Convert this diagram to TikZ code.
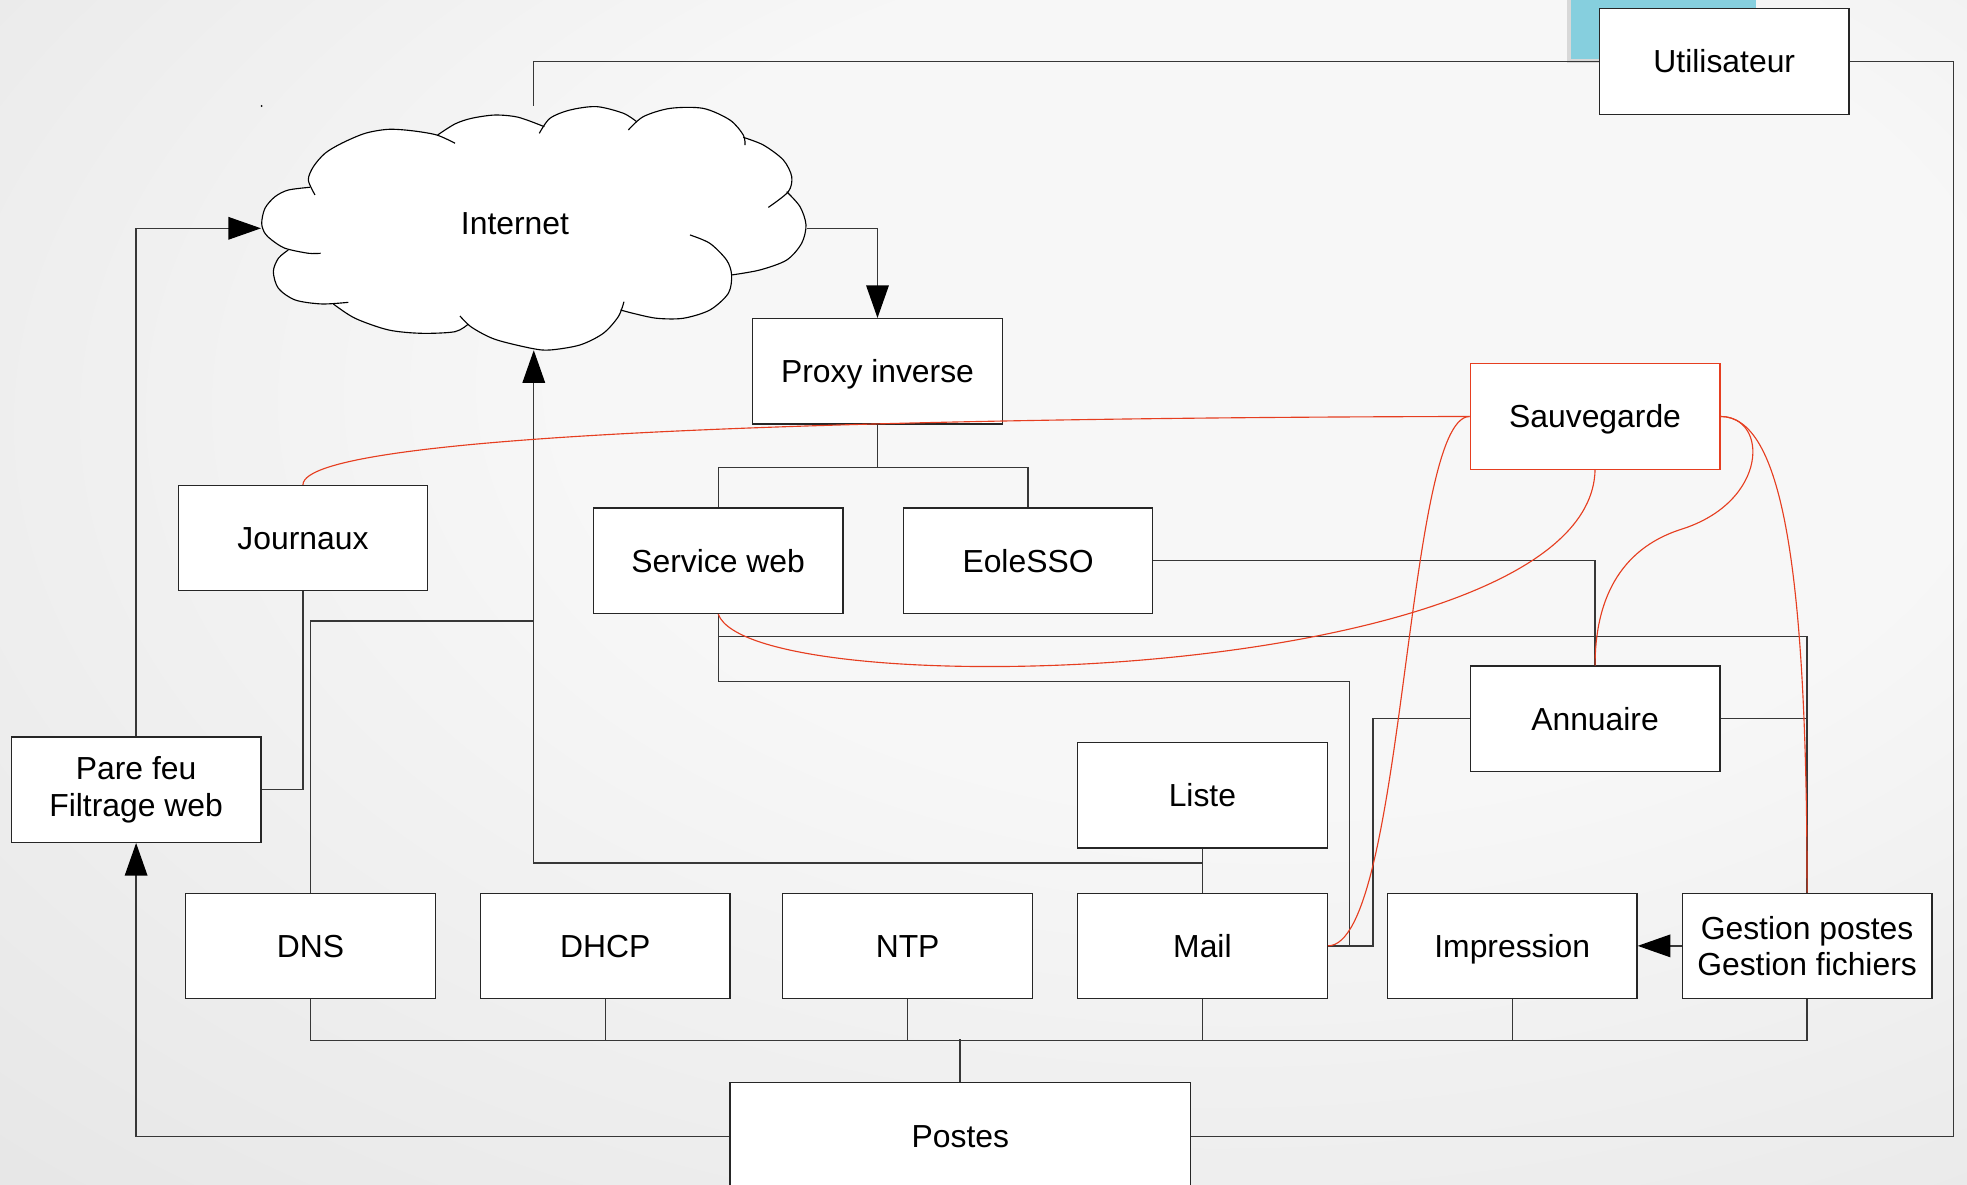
\documentclass[tikz,border=0pt]{standalone}
\usepackage{fontspec}
\setmainfont{Liberation Sans}
\usetikzlibrary{arrows.meta}
\definecolor{bgin}{RGB}{247,247,247}
\definecolor{bgout}{RGB}{222,222,222}
\definecolor{redl}{RGB}{230,62,32}
\definecolor{cyanb}{RGB}{134,207,222}
\definecolor{lin}{RGB}{55,55,55}
\pgfdeclareradialshading{bgshade}{\pgfpoint{10bp}{12bp}}{color(0bp)=(bgin); color(18bp)=(bgin); color(55bp)=(bgout); color(75bp)=(bgout)}
\begin{document}
\begin{tikzpicture}[x=1pt,y=-1pt,
  box/.style={draw=black!85, line width=1pt, fill=white, minimum width=199pt, minimum height=84pt, inner sep=0pt, font=\fontsize{25.4}{29}\selectfont, align=center},
  sbox/.style={box, text height=23.2pt, text depth=5pt},
  conn/.style={draw=lin, line width=1pt},
  arr/.style={conn, -{Triangle[length=26pt,width=18pt,color=black]}},
  redc/.style={draw=redl, line width=0.9pt},
  cloudline/.style={draw=black, line width=0.9pt},
  lbl/.style={font=\fontsize{25.4}{29}\selectfont, inner sep=0pt, text height=23.2pt, text depth=5pt}
]
\shade[shading=bgshade] (0,0) rectangle (1568,944);
\useasboundingbox (0,0) rectangle (1568,944);

% cyan tab behind Utilisateur
\fill[black, opacity=0.12] (1249,0) rectangle (1397,50);
\fill[cyanb] (1252,0) rectangle (1400,47);
\fill (208.6,84.5) circle (0.8);

% ---- cloud (Internet): one white fill made of wedges, then the lobe strokes ----
\coordinate (cc) at (425,182);
\fill[white, nonzero rule]
  plot[smooth] coordinates {(255.6,201.9) (245.8,201.9) (227.2,197.9) (216.6,191.3) (211.2,186.0) (208.6,178.0) (211.2,166.1) (219.2,156.8) (229.8,151.5) (247.1,149.3)} -- (cc) -- cycle
  plot[smooth] coordinates {(251.1,155.4) (245.8,143.5) (249.8,132.9) (259.1,122.2) (272.4,114.2) (291.0,106.3) (309.5,103.1) (328.2,104.2) (348.1,107.6) (362.7,114.2)} -- (cc) -- cycle
  plot[smooth] coordinates {(348.9,107.6) (362.7,98.8) (376.0,94.3) (394.6,91.7) (413.2,93.5) (433.9,101.0)} -- (cc) -- cycle
  plot[smooth] coordinates {(429.9,106.3) (438.4,94.3) (454.4,87.7) (475.6,85.0) (496.9,90.3) (507.5,97.0)} -- (cc) -- cycle
  plot[smooth] coordinates {(500.9,103.6) (512.8,93.0) (534.1,86.4) (560.6,86.4) (581.9,95.7) (592.5,107.6) (593.9,115.6)} -- (cc) -- cycle
  plot[smooth] coordinates {(592.5,109.5) (608.5,115.6) (624.4,127.5) (631.1,140.8) (628.4,152.8) (612.5,165.3)} -- (cc) -- cycle
  plot[smooth] coordinates {(627.1,152.8) (637.7,164.7) (642.5,179.3) (639.0,194.0) (627.1,207.3) (605.8,215.2) (583.2,219.2)} -- (cc) -- cycle
  plot[smooth] coordinates {(550.0,187.3) (565.9,194.0) (579.2,207.3) (583.2,219.2) (580.6,233.8) (565.9,247.1) (544.7,253.7) (523.4,253.7) (504.8,249.8) (494.7,247.1)} -- (cc) -- cycle
  plot[smooth] coordinates {(497.4,240.5) (492.9,252.4) (480.9,265.7) (462.3,275.0) (438.4,279.0) (423.8,277.7) (394.6,270.5) (376.0,260.9) (366.7,251.9)} -- (cc) -- cycle
  plot[smooth] coordinates {(373.3,258.3) (362.7,264.4) (336.1,265.7) (309.6,263.0) (283.0,253.7) (265.7,242.3)} -- (cc) -- cycle
  plot[smooth] coordinates {(277.7,241.0) (256.4,242.3) (235.2,239.1) (221.9,229.8) (217.9,216.5) (221.9,205.9) (229.8,199.3)} -- (cc) -- cycle;
\draw[cloudline] plot[smooth] coordinates {(247.1,149.3) (229.8,151.5) (219.2,156.8) (211.2,166.1) (208.6,178.0) (211.2,186.0) (216.6,191.3) (227.2,197.9) (245.8,201.9) (255.6,201.9)};
\draw[cloudline] plot[smooth] coordinates {(251.1,155.4) (245.8,143.5) (249.8,132.9) (259.1,122.2) (272.4,114.2) (291.0,106.3) (309.5,103.1) (328.2,104.2) (348.1,107.6) (362.7,114.2)};
\draw[cloudline] plot[smooth] coordinates {(348.9,107.6) (362.7,98.8) (376.0,94.3) (394.6,91.7) (413.2,93.5) (433.9,101.0)};
\draw[cloudline] plot[smooth] coordinates {(429.9,106.3) (438.4,94.3) (454.4,87.7) (475.6,85.0) (496.9,90.3) (507.5,97.0)};
\draw[cloudline] plot[smooth] coordinates {(500.9,103.6) (512.8,93.0) (534.1,86.4) (560.6,86.4) (581.9,95.7) (592.5,107.6) (593.9,115.6)};
\draw[cloudline] plot[smooth] coordinates {(592.5,109.5) (608.5,115.6) (624.4,127.5) (631.1,140.8) (628.4,152.8) (612.5,165.3)};
\draw[cloudline] plot[smooth] coordinates {(627.1,152.8) (637.7,164.7) (642.5,179.3) (639.0,194.0) (627.1,207.3) (605.8,215.2) (583.2,219.2)};
\draw[cloudline] plot[smooth] coordinates {(550.0,187.3) (565.9,194.0) (579.2,207.3) (583.2,219.2) (580.6,233.8) (565.9,247.1) (544.7,253.7) (523.4,253.7) (504.8,249.8) (494.7,247.1)};
\draw[cloudline] plot[smooth] coordinates {(497.4,240.5) (492.9,252.4) (480.9,265.7) (462.3,275.0) (438.4,279.0) (423.8,277.7) (394.6,270.5) (376.0,260.9) (366.7,251.9)};
\draw[cloudline] plot[smooth] coordinates {(373.3,258.3) (362.7,264.4) (336.1,265.7) (309.6,263.0) (283.0,253.7) (265.7,242.3)};
\draw[cloudline] plot[smooth] coordinates {(277.7,241.0) (256.4,242.3) (235.2,239.1) (221.9,229.8) (217.9,216.5) (221.9,205.9) (229.8,199.3)};
\node[minimum width=434.5pt, minimum height=194pt, inner sep=0pt] (internet) at (425.5,182) {};
\node[lbl] (inettext) at (410.5,178) {Internet};

% nodes
\node[sbox] (util) at (1374.5,49) {Utilisateur};
\node[sbox] (proxy) at (699.5,296) {Proxy inverse};
\node[sbox, draw=redl] (sauv) at (1271.5,332) {Sauvegarde};
\node[sbox] (journ) at (241.5,429) {Journaux};
\node[sbox] (sweb) at (572.5,447) {Service web};
\node[sbox] (eole) at (819.5,447) {EoleSSO};
\node[sbox] (ann) at (1271.5,573) {Annuaire};
\node[sbox] (liste) at (958.5,634) {Liste};
\node[box] (pare) at (108.5,629.5) {Pare feu\\Filtrage web};
\node[sbox] (dns) at (247.5,754) {DNS};
\node[sbox] (dhcp) at (482.5,754) {DHCP};
\node[sbox] (ntp) at (723.5,754) {NTP};
\node[sbox] (mail) at (958.5,754) {Mail};
\node[sbox] (imp) at (1205.5,754) {Impression};
\node[box] (gest) at (1440.5,754) {Gestion postes\\Gestion fichiers};
\node[sbox, minimum width=367pt, minimum height=86pt] (postes) at (765.5,906) {Postes};

% helper coordinates
\coordinate (mjoin) at (958.5,688);
\coordinate (djoin) at (425.5,495);
\coordinate (swbend) at (1076,543);

% black connectors
\draw[conn] (util.west) -| (internet.north);
\draw[conn] (util.east) -- ++(83,0) |- (postes.east);
\draw[arr] (postes.west) -| (pare.south);
\draw[arr] (pare.north) |- (internet.west);
\draw[arr] (internet.east) -| (proxy.north);
\draw[conn] (proxy.south) -- ++(0,34) -| (sweb.north);
\draw[conn] (proxy.south) -- ++(0,34) -| (eole.north);
\draw[conn] (journ.south) |- (pare.east);
\draw[conn] (liste) -- (mail);
\draw[arr] (mjoin) -| (internet.south);
\draw[conn] (dns.north) |- (djoin);
\draw[conn] (sweb.south) |- (swbend) |- (mail.east);
\draw[conn] (sweb.south) -- ++(0,18) -| (gest.north);
\draw[conn] (ann.west) -- ++(-77,0) |- (mail.east);
\draw[conn] (eole.east) -| (ann.north);
\draw[conn] (ann.east) -- (ann.east -| gest.north);
\draw[arr] (gest) -- (imp);
\draw[conn] (dns.south) -- ++(0,33) -| (gest.south);
\draw[conn] (dhcp.south) -- ++(0,33);
\draw[conn] (ntp.south) -- ++(0,33);
\draw[conn] (mail.south) -- ++(0,33);
\draw[conn] (imp.south) -- ++(0,33);
\draw[conn, line width=1.6pt] (postes.north) -- ++(0,-34);

% red connectors (Sauvegarde)
\draw[redc] (sauv.west) .. controls (700,333) and (241.5,345) .. (journ.north);
\draw[redc] (sauv.west) .. controls (1120,332) and (1120,754) .. (mail.east);
\draw[redc] (sauv.south) .. controls (1268,545) and (600,565) .. (sweb.south);
\draw[redc] (sauv.east) .. controls (1410,332) and (1410,400) .. (1340,422) .. controls (1290,438) and (1271.5,480) .. (ann.north);
\draw[redc] (sauv.east) .. controls (1420,332) and (1440.5,450) .. (gest.north);
\end{tikzpicture}
\end{document}
